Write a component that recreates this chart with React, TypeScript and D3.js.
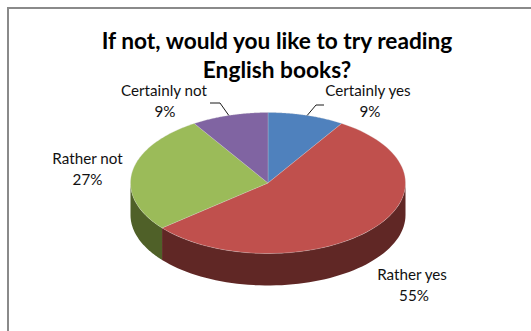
import React from "react";
import * as d3 from "d3";

const categories = ["Certainly yes", "Rather yes", "Rather not", "Certainly not"];
const shares = [9, 55, 27, 9];
const topColors = ["#4f81bd", "#c0504d", "#9bbb59", "#8064a2"];
const wallColors = ["#2a4565", "#602725", "#4f6028", "#403252"];
const titleLines = ["If not, would you like to try reading", "English books?"];

const WIDTH = 531;
const HEIGHT = 331;
const FONT = "Lato, 'Open Sans', sans-serif";
const cx = 268;
const cy = 183;
const rx = 137.5;
const ry = 70.5;
const depth = 32;

// Label placement per category: anchor point of the first line.
const labelSpots = [
  { x: 368, y: 96 },
  { x: 412, y: 280 },
  { x: 87.5, y: 164 },
  { x: 164, y: 96 },
];
const percentNudge = [2, 2, 0, 1];

// Leader lines drawn for the two small top slices.
const leaders = [
  { from: [324, 105], mid: [316, 105], angleShare: 4.6 },
  { from: [210, 103], mid: [220, 103], angleShare: 95.4 },
];

const project = (a: number, drop = 0): [number, number] => [
  cx + rx * Math.sin(a),
  cy - ry * Math.cos(a) + drop,
];

const slices = d3.pie<number>().sort(null)(shares);

// The wall of a slice is only visible on the front half of the ellipse.
function wallPath(start: number, end: number): string | null {
  const a0 = Math.max(start, Math.PI / 2);
  const a1 = Math.min(end, (3 * Math.PI) / 2);
  if (a1 <= a0) return null;
  const steps = d3.range(0, 61).map((i) => a0 + ((a1 - a0) * i) / 60);
  const upper = steps.map((a) => project(a));
  const lower = steps.map((a) => project(a, depth)).reverse();
  return d3.line()([...upper, ...lower]) + "Z";
}

function wedgePath(start: number, end: number): string {
  const steps = d3.range(0, 81).map((i) => start + ((end - start) * i) / 80);
  return d3.line()([[cx, cy], ...steps.map((a) => project(a))]) + "Z";
}

export default function App() {
  const leaderAngle = d3.scaleLinear().domain([0, 100]).range([0, 2 * Math.PI]);
  return (
    <svg
      width={WIDTH}
      height={HEIGHT}
      style={{ position: "absolute", left: 0, top: 0, background: "#fff" }}
    >
      <path
        d={`M8 ${HEIGHT}V8H${WIDTH}`}
        fill="none"
        stroke="#8a8a8a"
        strokeWidth={2}
      />
      {titleLines.map((line, i) => (
        <text
          key={line}
          x={277}
          y={49 + i * 29}
          textAnchor="middle"
          fontFamily={FONT}
          fontWeight={700}
          fontSize={22.7}
          fill="#000"
        >
          {line}
        </text>
      ))}
      {slices.map((s, i) => {
        const d = wallPath(s.startAngle, s.endAngle);
        return d ? <path key={i} d={d} fill={wallColors[i]} /> : null;
      })}
      {slices.map((s, i) => (
        <path
          key={i}
          d={wedgePath(s.startAngle, s.endAngle)}
          fill={topColors[i]}
          stroke="#d8d8d8"
          strokeOpacity={0.45}
          strokeWidth={0.6}
        />
      ))}
      {leaders.map((l, i) => {
        const tip = project(leaderAngle(l.angleShare));
        return (
          <path
            key={i}
            d={d3.line()([l.from as [number, number], l.mid as [number, number], tip]) ?? ""}
            fill="none"
            stroke="#000"
            strokeWidth={0.9}
          />
        );
      })}
      {categories.map((c, i) => (
        <text
          key={c}
          textAnchor="middle"
          fontFamily={FONT}
          fontSize={15.2}
          fill="#111"
        >
          <tspan x={labelSpots[i].x} y={labelSpots[i].y}>
            {c}
          </tspan>
          <tspan x={labelSpots[i].x + percentNudge[i]} y={labelSpots[i].y + 21}>
            {shares[i]}%
          </tspan>
        </text>
      ))}
    </svg>
  );
}
